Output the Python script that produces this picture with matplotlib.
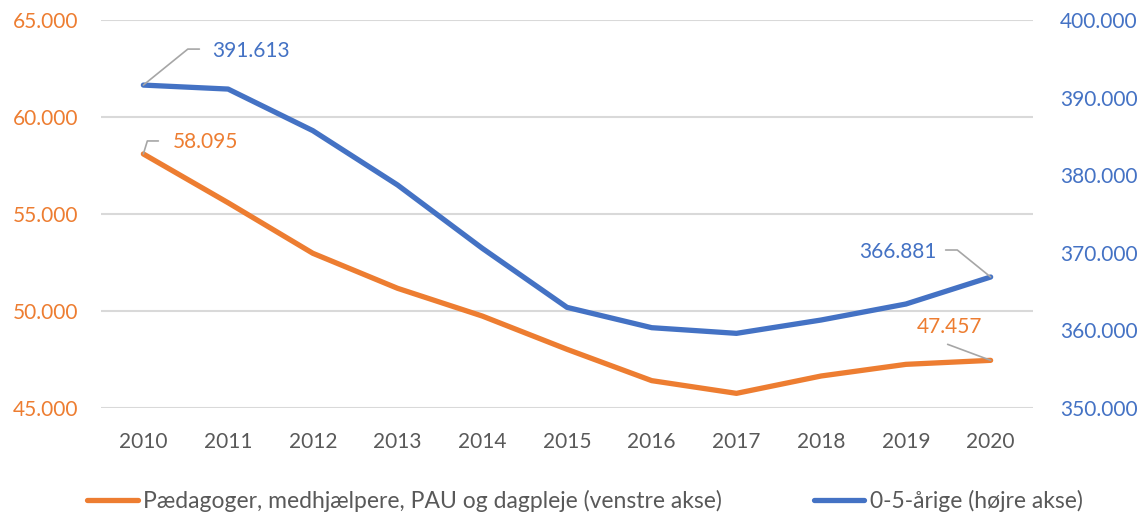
import matplotlib
matplotlib.use("Agg")
import matplotlib.pyplot as plt
import numpy as np

plt.rcParams['font.family'] = ['Lato', 'DejaVu Sans']

years = ['2010', '2011', '2012', '2013', '2014', '2015', '2016', '2017', '2018', '2019', '2020']
staff = [58095, 55580, 52975, 51170, 49740, 48025, 46410, 45755, 46650, 47250, 47457]
children = [391613, 391100, 385740, 378740, 370580, 362970, 360350, 359620, 361340, 363400, 366881]
left_ticks = [45000, 50000, 55000, 60000, 65000]
right_ticks = [350000, 360000, 370000, 380000, 390000, 400000]
staff_label = 'Pædagoger, medhjælpere, PAU og dagpleje (venstre akse)'
children_label = '0-5-årige (højre akse)'

ORANGE = '#ED7D31'
BLUE = '#4472C4'
GRID = '#D9D9D9'
TXT = '#595959'
LEAD = '#A6A6A6'

def fmt(v):
    return f'{v:,.0f}'.replace(',', '.')

fig = plt.figure(figsize=(11.42, 5.15), dpi=100)
ax = fig.add_axes([101/1142, 1-408/515, (1033-101)/1142, (408-20)/515])
ax2 = ax.twinx()

x = np.arange(len(years))
ax.set_zorder(ax2.get_zorder() + 1)
ax.patch.set_visible(False)

l1, = ax.plot(x, staff, color=ORANGE, lw=3.8, solid_capstyle='round', solid_joinstyle='round', label=staff_label)
l2, = ax2.plot(x, children, color=BLUE, lw=3.8, solid_capstyle='round', solid_joinstyle='round', label=children_label)

ax.set_xlim(-0.5, len(years) - 0.5)
ax.set_ylim(45000, 65000)
ax2.set_ylim(350000, 400000)
ax.set_yticks(left_ticks)
ax.set_yticklabels([fmt(v) for v in left_ticks])
ax2.set_yticks(right_ticks)
ax2.set_yticklabels([fmt(v) for v in right_ticks])
ax.set_xticks(x)
ax.set_xticklabels(years)

ax2.grid(False)
for v in left_ticks:
    ax2.axhline(350000 + (v - 45000) * 2.5, color=GRID, lw=1.5, zorder=0)

for a in (ax, ax2):
    for s in a.spines.values():
        s.set_visible(False)

ax.tick_params(axis='y', length=0, pad=16.5, labelsize=15, labelcolor=ORANGE)
ax2.tick_params(axis='y', length=0, pad=19.5, labelsize=15, labelcolor=BLUE)
ax.tick_params(axis='x', length=0, pad=17, labelsize=15, labelcolor=TXT)

def label(axis, xi, yv, text, color, lead_off, text_off, ha, angleB=None):
    if angleB is None:
        cs = 'arc3'
    else:
        cs = f'angle,angleA=0,angleB={angleB},rad=0'
    axis.annotate('', xy=(xi, yv), xytext=lead_off, textcoords='offset pixels',
                  arrowprops=dict(arrowstyle='-', color=LEAD, lw=1.2,
                                  connectionstyle=cs, shrinkA=0, shrinkB=0))
    axis.annotate(text, xy=(xi, yv), xytext=text_off, textcoords='offset pixels',
                  ha=ha, va='center', fontsize=15, color=color)

label(ax2, 0, children[0], fmt(children[0]), BLUE, (56, 36), (69, 34), 'left', 39)
label(ax, 0, staff[0], fmt(staff[0]), ORANGE, (15, 13), (29, 12), 'left', 73)
label(ax2, 10, children[-1], fmt(children[-1]), BLUE, (-45, 27), (-54, 25), 'right', 141)
label(ax, 10, staff[-1], fmt(staff[-1]), ORANGE, (-43, 16), (-41, 33), 'center')

fig.legend(handles=[l1, l2], loc='center', bbox_to_anchor=(585/1142, 1-501/515),
           ncol=2, frameon=False, fontsize=16.5, labelcolor=TXT,
           handlelength=2.2, handletextpad=0.25, columnspacing=4.0)

fig.savefig('out.png', dpi=100)
